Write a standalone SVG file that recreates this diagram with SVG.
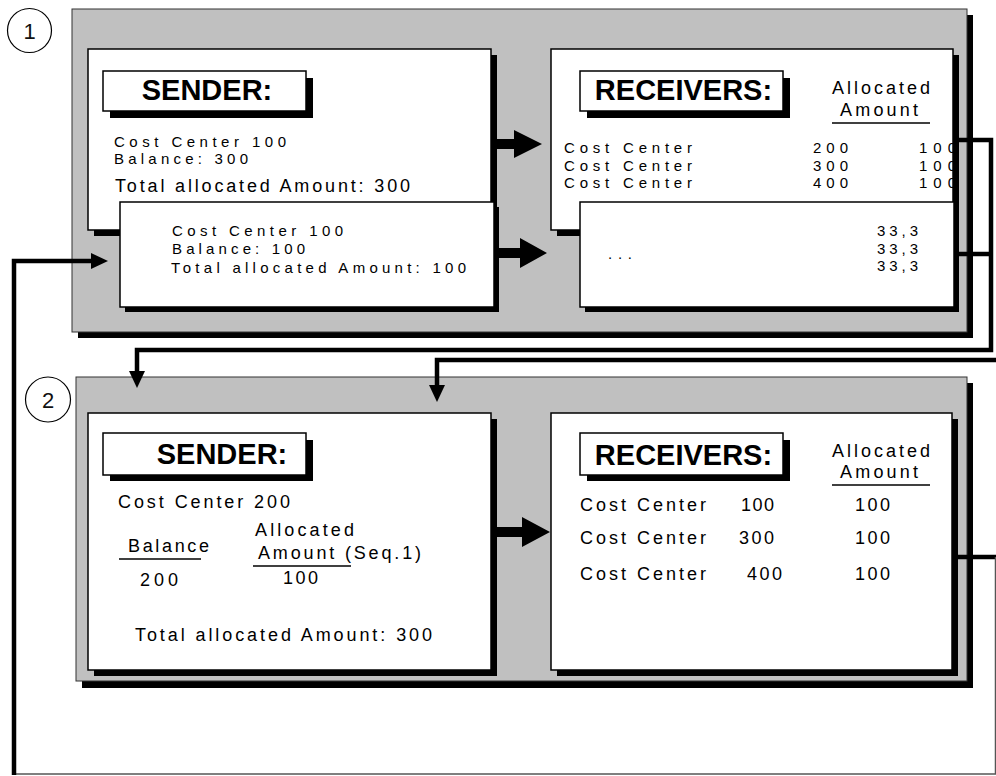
<svg xmlns="http://www.w3.org/2000/svg" width="996" height="776" viewBox="0 0 996 776">
<style>
.bg{fill:#fff}
.panel{fill:#c0c0c0;stroke:#333;stroke-width:1}
.sh{fill:#000}
.box{fill:#fff;stroke:#000;stroke-width:1.5}
.t{font-family:"Liberation Sans",Arial,sans-serif;font-size:18px;fill:#000}
.ts{font-family:"Liberation Sans",Arial,sans-serif;font-size:15px;fill:#000}
.h{font-family:"Liberation Sans",Arial,sans-serif;font-size:29px;font-weight:bold;fill:#000;text-anchor:middle}
.num{font-family:"Liberation Sans",Arial,sans-serif;font-size:22px;fill:#111;text-anchor:middle}
.circ{fill:#fff;stroke:#000;stroke-width:1.2}
.ul{stroke:#000;stroke-width:1.5}
.conn{fill:none;stroke:#000;stroke-width:4.5;stroke-linejoin:miter}
.thin{fill:none;stroke:#555;stroke-width:1.5}
.big{fill:#000}
</style>
<defs>
<marker id="ah" markerUnits="userSpaceOnUse" markerWidth="17" markerHeight="16" viewBox="0 0 17 16" refX="5" refY="8" orient="auto">
<path d="M0,0 L17,8 L0,16 z" fill="#000"/>
</marker>
<clipPath id="rc1"><rect x="551" y="49" width="402" height="153"/></clipPath>
</defs>
<rect class="bg" x="0" y="0" width="996" height="776"/>

<g id="label1">
<circle class="circ" cx="29.5" cy="30.5" r="22"/>
<text class="num" x="29.5" y="38.5">1</text>
</g>
<g id="label2">
<circle class="circ" cx="48" cy="399.5" r="22.5"/>
<text class="num" x="48" y="407.5">2</text>
</g>

<g id="panel1">
<rect class="sh" x="78" y="15" width="895" height="323"/>
<rect class="panel" x="72" y="9" width="895" height="323"/>
</g>

<g id="sender1">
<rect class="sh" x="94" y="55" width="403" height="181"/>
<rect class="box" x="88" y="49" width="403" height="181"/>
<rect class="sh" x="110" y="78" width="203" height="40"/>
<rect class="box" x="103" y="71" width="203" height="40"/>
<text class="h" x="207" y="100">SENDER:</text>
<text class="ts" x="114" y="147" textLength="172">Cost Center 100</text>
<text class="ts" x="114" y="164" textLength="134">Balance: 300</text>
<text class="t" x="115" y="192" textLength="295">Total allocated Amount: 300</text>
</g>

<g id="sender1b">
<rect class="sh" x="125" y="207" width="374" height="105"/>
<rect class="box" x="120" y="202" width="374" height="105"/>
<text class="ts" x="172" y="236" textLength="171">Cost Center 100</text>
<text class="ts" x="172" y="254" textLength="133">Balance: 100</text>
<text class="ts" x="171" y="273" textLength="295">Total allocated Amount: 100</text>
</g>

<g id="receivers1">
<rect class="sh" x="557" y="55" width="402" height="181"/>
<rect class="box" x="551" y="49" width="402" height="181"/>
<rect class="sh" x="587" y="78" width="203" height="40"/>
<rect class="box" x="580" y="71" width="203" height="40"/>
<text class="h" x="683.5" y="100">RECEIVERS:</text>
<text class="t" x="832" y="94" textLength="98">Allocated</text>
<text class="t" x="840" y="116" textLength="78">Amount</text>
<line class="ul" x1="832" y1="123" x2="930" y2="123"/>
<g clip-path="url(#rc1)">
<text class="ts" x="564" y="153" textLength="128">Cost Center</text>
<text class="ts" x="564" y="170.5" textLength="128">Cost Center</text>
<text class="ts" x="564" y="188" textLength="128">Cost Center</text>
<text class="ts" x="813" y="153" textLength="35">200</text>
<text class="ts" x="813" y="170.5" textLength="35">300</text>
<text class="ts" x="813" y="188" textLength="35">400</text>
<text class="ts" x="919" y="153" textLength="37">100</text>
<text class="ts" x="919" y="170.5" textLength="37">100</text>
<text class="ts" x="919" y="188" textLength="37">100</text>
</g>
</g>

<g id="receivers1b">
<rect class="sh" x="585" y="207" width="374" height="105"/>
<rect class="box" x="580" y="202" width="374" height="105"/>
<text class="ts" x="608" y="259" textLength="24">...</text>
<text class="ts" x="877" y="236" textLength="41">33,3</text>
<text class="ts" x="877" y="253.5" textLength="41">33,3</text>
<text class="ts" x="877" y="271" textLength="41">33,3</text>
</g>

<g id="panel2">
<rect class="sh" x="82" y="383" width="891" height="305"/>
<rect class="panel" x="76" y="377" width="891" height="304"/>
</g>

<g id="sender2">
<rect class="sh" x="94" y="419" width="403" height="257"/>
<rect class="box" x="88" y="413" width="403" height="257"/>
<rect class="sh" x="110" y="440" width="203" height="41"/>
<rect class="box" x="103" y="433" width="203" height="42"/>
<text class="h" x="222" y="464">SENDER:</text>
<text class="t" x="118" y="508" textLength="172">Cost Center 200</text>
<text class="t" x="128" y="552" textLength="81">Balance</text>
<line class="ul" x1="119" y1="559" x2="201" y2="559"/>
<text class="t" x="140" y="586" textLength="38">200</text>
<text class="t" x="255" y="536" textLength="99">Allocated</text>
<text class="t" x="258" y="559" textLength="163">Amount (Seq.1)</text>
<line class="ul" x1="253" y1="566" x2="351" y2="566"/>
<text class="t" x="283" y="584" textLength="35">100</text>
<text class="t" x="135" y="641" textLength="297">Total allocated Amount: 300</text>
</g>

<g id="receivers2">
<rect class="sh" x="557" y="419" width="401" height="257"/>
<rect class="box" x="551" y="413" width="401" height="257"/>
<rect class="sh" x="587" y="440" width="203" height="41"/>
<rect class="box" x="580" y="433" width="203" height="42"/>
<text class="h" x="683.5" y="465">RECEIVERS:</text>
<text class="t" x="832" y="457" textLength="98">Allocated</text>
<text class="t" x="840" y="478" textLength="78">Amount</text>
<line class="ul" x1="832" y1="485" x2="930" y2="485"/>
<text class="t" x="580" y="511" textLength="126">Cost Center</text>
<text class="t" x="580" y="544" textLength="126">Cost Center</text>
<text class="t" x="580" y="580" textLength="126">Cost Center</text>
<text class="t" x="741" y="511" textLength="33">100</text>
<text class="t" x="739" y="544" textLength="35">300</text>
<text class="t" x="747" y="580" textLength="35">400</text>
<text class="t" x="855" y="511" textLength="35">100</text>
<text class="t" x="855" y="544" textLength="35">100</text>
<text class="t" x="855" y="580" textLength="35">100</text>
</g>

<g id="connectors">
<path class="big" d="M497,139 H514 V130 L542,144 L514,158 V149 H497 z"/>
<path class="big" d="M499,248 H520 V238 L547,253 L520,268 V258 H499 z"/>
<path class="big" d="M497,527 H522 V517 L550,532 L522,547 V537 H497 z"/>
<path class="conn" d="M953,140 H991 V350 H137 V376" marker-end="url(#ah)"/>
<path class="conn" d="M959,254 H991"/>
<path class="conn" d="M996,360 H437 V390" marker-end="url(#ah)"/>
<path class="conn" d="M958,557 H996"/>
<path class="thin" d="M995.5,557 V774 H14"/>
<path class="conn" d="M14,775 V261 H96" marker-end="url(#ah)"/>
</g>
</svg>
